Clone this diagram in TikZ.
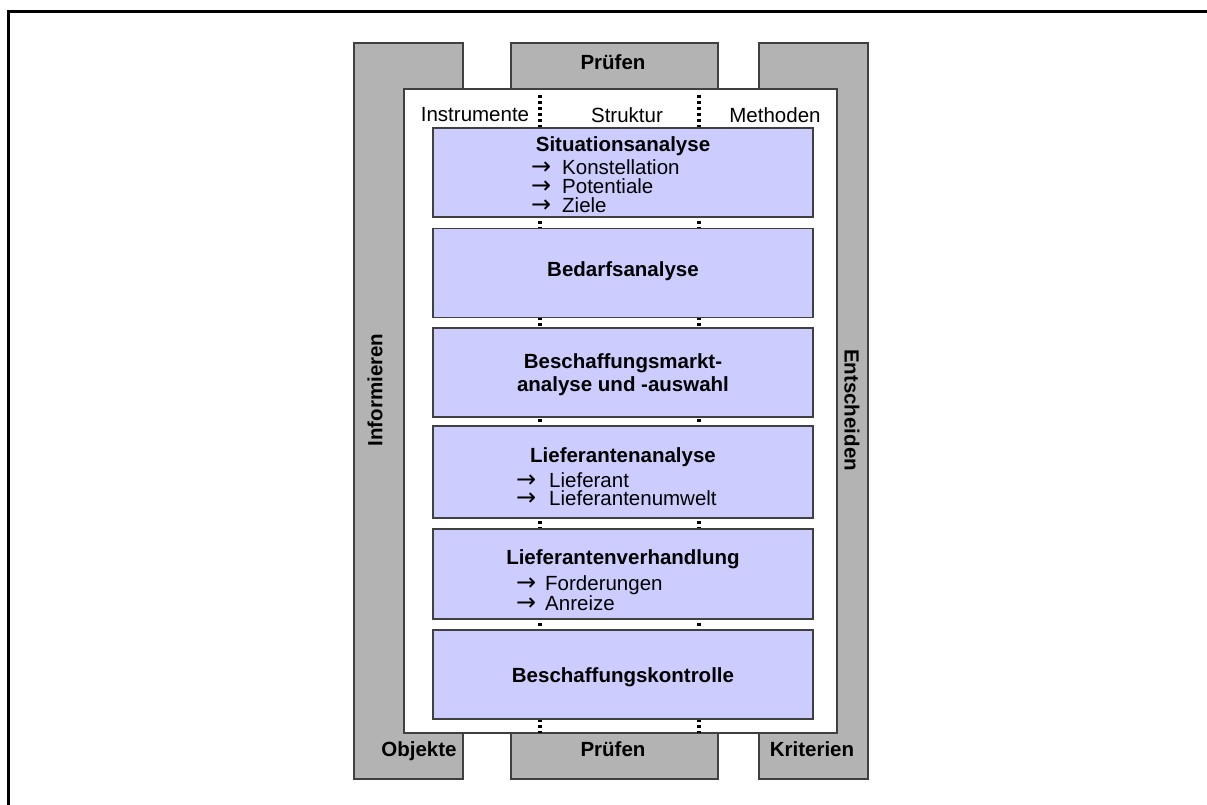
\documentclass[tikz,border=0pt]{standalone}
\usepackage{fontspec}
\setmainfont{Liberation Sans}
\newfontfamily\arrowfont{DejaVu Sans}
\definecolor{phasefill}{RGB}{204,204,255}
\definecolor{pillarfill}{RGB}{179,179,179}
\definecolor{edge}{RGB}{64,64,64}
\begin{document}
\begin{tikzpicture}[x=1pt,y=-1pt,
  frameline/.style={draw=black,line width=3pt},
  pillar/.style={draw=edge,fill=pillarfill,line width=1.2pt},
  panel/.style={draw=edge,fill=white,line width=1.2pt},
  phase/.style={draw=edge,fill=phasefill,line width=1.2pt,inner sep=0pt,outer sep=0pt,
                minimum width=380pt,minimum height=89pt,anchor=north west},
  axisline/.style={line width=3.2pt,dash pattern=on 3pt off 3pt},
  txt/.style={inner sep=0pt,font=\fontsize{20.5}{22}\selectfont},
  btxt/.style={txt,font=\fontsize{20.5}{22}\selectfont\bfseries},
  item/.style={txt,anchor=base west},
  arrowmark/.style={inner sep=0pt,anchor=base west,font=\arrowfont\fontsize{24}{24}\selectfont}]
\useasboundingbox (0,0) rectangle (1207,805);
\begin{scope}
\clip (0,0) rectangle (1207,805);
\draw[frameline] (8.5,11.5) rectangle (1230,830);
\end{scope}

% the four pillars around the process
\filldraw[pillar] (354,43) rectangle (463,779);
\filldraw[pillar] (759,43) rectangle (868,779);
\filldraw[pillar] (511,43) rectangle (718,120);
\filldraw[pillar] (511,700) rectangle (718,779);

% white inner panel
\filldraw[panel] (404,89) rectangle (837,733);

% dotted axes between the phases
\coordinate (axL1) at (540,95);
\coordinate (axL2) at (540,733);
\coordinate (axR1) at (699,95);
\coordinate (axR2) at (699,733);
\draw[axisline] (axL1) -- (axL2);
\draw[axisline] (axR1) -- (axR2);

% phase boxes
\node[phase] (p1) at (433,128) {};
\node[phase] (p2) at (433,228.5) {};
\node[phase] (p3) at (433,328) {};
\node[phase,minimum height=92pt] (p4) at (433,426) {};
\node[phase,minimum height=90pt] (p5) at (433,529) {};
\node[phase] (p6) at (433,630) {};

% pillar labels
\node[btxt,anchor=base] (pt) at (613,70) {Prüfen};
\node[btxt,anchor=base] (pb) at (613,756) {Prüfen};
\node[btxt,anchor=base] (ob) at (419,756) {Objekte};
\node[btxt,anchor=base] (kr) at (812,756) {Kriterien};
\node[btxt,rotate=90] (inf) at (375,390) {Informieren};
\node[btxt,rotate=-90] (ent) at (852,410) {Entscheiden};

% column headings
\node[txt,anchor=base] (ins) at (475,122) {Instrumente};
\node[txt,anchor=base] (str) at (627,123) {Struktur};
\node[txt,anchor=base] (met) at (775,123) {Methoden};

% phase texts
\node[btxt,anchor=base] (t1) at (623,152) {Situationsanalyse};
\node[arrowmark] (a11) at (531,175) {→};
\node[item] (i11) at (562,175) {Konstellation};
\node[arrowmark] (a12) at (531,194) {→};
\node[item] (i12) at (562,194) {Potentiale};
\node[arrowmark] (a13) at (531,212) {→};
\node[item] (i13) at (562,212) {Ziele};

\node[btxt,anchor=base] (t2) at (623,276) {Bedarfsanalyse};

\node[btxt,anchor=base] (t3a) at (623,368) {Beschaffungsmarkt-};
\node[btxt,anchor=base] (t3b) at (623,391) {analyse und -auswahl};

\node[btxt,anchor=base] (t4) at (623,462) {Lieferantenanalyse};
\node[arrowmark] (a41) at (516,487) {→};
\node[item] (i41) at (549,487) {Lieferant};
\node[arrowmark] (a42) at (516,505) {→};
\node[item] (i42) at (549,505) {Lieferantenumwelt};

\node[btxt,anchor=base] (t5) at (623,564) {Lieferantenverhandlung};
\node[arrowmark] (a51) at (516,590) {→};
\node[item] (i51) at (545,590) {Forderungen};
\node[arrowmark] (a52) at (516,610) {→};
\node[item] (i52) at (545,610) {Anreize};

\node[btxt,anchor=base] (t6) at (623,682) {Beschaffungskontrolle};
\end{tikzpicture}
\end{document}
